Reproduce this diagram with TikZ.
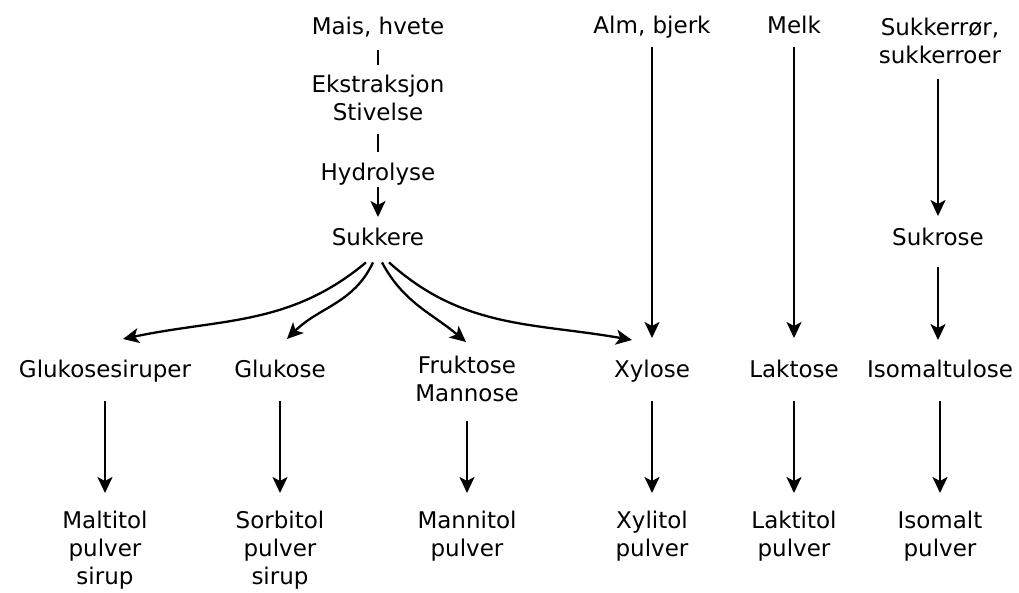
\documentclass[tikz,border=0pt]{standalone}
\usepackage{fontspec}
\setmainfont{DejaVu Sans}
\usetikzlibrary{arrows.meta}

\begin{document}
\begin{tikzpicture}[x=1pt, y=1pt,
    tekst/.style = {align=center, anchor=north, inner xsep=2pt, inner ysep=12pt,
                    font=\fontsize{23}{28}\selectfont},
    stoff/.style = {tekst, text height=17pt, text depth=5pt},
    strek/.style = {line width=2.3pt},
    pil/.style = {-{Stealth[length=16pt, width=15pt, inset=4pt]}, line width=2.3pt,
                  shorten >=6pt, shorten <=7pt}]
      \useasboundingbox (0,0) rectangle (1019,-593);
      % stivelse
      \node [stoff] (mais) at (378, -5) {Mais, hvete};
      \node [tekst] (ekstraksjon) at (378, -63) {Ekstraksjon\\Stivelse};
      \node [stoff] (hydrolyse) at (378, -151) {Hydrolyse};
      \node [stoff] (sukkere) at (378, -216) {Sukkere};
      % andre kilder
      \node [stoff] (alm) at (652, -4) {Alm, bjerk};
      \node [stoff] (melk) at (794, -4) {Melk};
      \node [tekst] (sukkerror) at (940, -6) {Sukkerrør,\\sukkerroer};
      \node [stoff] (sukrose) at (938, -216) {Sukrose};
      % sukkerarter
      \node [stoff] (glukosesiruper) at (105, -348) {Glukosesiruper};
      \node [stoff] (glukose) at (280, -348) {Glukose};
      \node [tekst] (fruktose) at (467, -344) {Fruktose\\Mannose};
      \node [stoff] (xylose) at (652, -348) {Xylose};
      \node [stoff] (laktose) at (794, -348) {Laktose};
      \node [stoff] (isomaltulose) at (940, -348) {Isomaltulose};
      % polyoler
      \node [tekst] (maltitol) at (105, -499) {Maltitol\\pulver\\sirup};
      \node [tekst] (sorbitol) at (280, -499) {Sorbitol\\pulver\\sirup};
      \node [tekst] (mannitol) at (467, -499) {Mannitol\\pulver};
      \node [tekst] (xylitol) at (652, -499) {Xylitol\\pulver};
      \node [tekst] (laktitol) at (794, -499) {Laktitol\\pulver};
      \node [tekst] (isomalt) at (940, -499) {Isomalt\\pulver};

      \draw [strek, shorten <=-1pt, shorten >=-2pt] (mais.south) -- (ekstraksjon.north);
      \draw [strek, shorten <=1pt, shorten >=-1pt] (ekstraksjon.south) -- (hydrolyse.north);
      \draw [pil, shorten <=-10pt, shorten >=-1pt] (hydrolyse.south) -- (sukkere.north);

      \draw [pil, shorten <=0pt, shorten >=0pt] ([xshift=-12pt]sukkere.south)
            to[out=-140, in=12] ([xshift=18pt, yshift=9pt]glukosesiruper.north);
      \draw [pil, shorten <=0pt, shorten >=0pt] ([xshift=-5pt]sukkere.south)
            to[out=-115, in=45] ([xshift=7pt, yshift=9pt]glukose.north);
      \draw [pil, shorten <=0pt, shorten >=0pt] ([xshift=4pt]sukkere.south)
            to[out=-62, in=140] ([xshift=-1pt, yshift=2pt]fruktose.north);
      \draw [pil, shorten <=0pt, shorten >=0pt] ([xshift=11pt]sukkere.south)
            to[out=-42, in=170] ([xshift=-20pt, yshift=8pt]xylose.north);

      \draw [pil, shorten <=-3pt, shorten >=10pt] (alm.south) -- (xylose.north);
      \draw [pil, shorten <=-3pt, shorten >=10pt] (melk.south) -- (laktose.north);
      \draw [pil, shorten <=3pt, shorten >=0pt] (sukkerror.south -| sukrose) -- (sukrose.north);
      \draw [pil, shorten <=5pt, shorten >=8pt] (sukrose.south) -- (sukrose.south |- isomaltulose.north);

      \foreach \a/\b in {glukosesiruper/maltitol, glukose/sorbitol, fruktose/mannitol,
                         xylose/xylitol, laktose/laktitol, isomaltulose/isomalt}
               {
                 \draw [pil] (\a.south) -- (\a.south |- \b.north);
               }
\end{tikzpicture}
\end{document}
